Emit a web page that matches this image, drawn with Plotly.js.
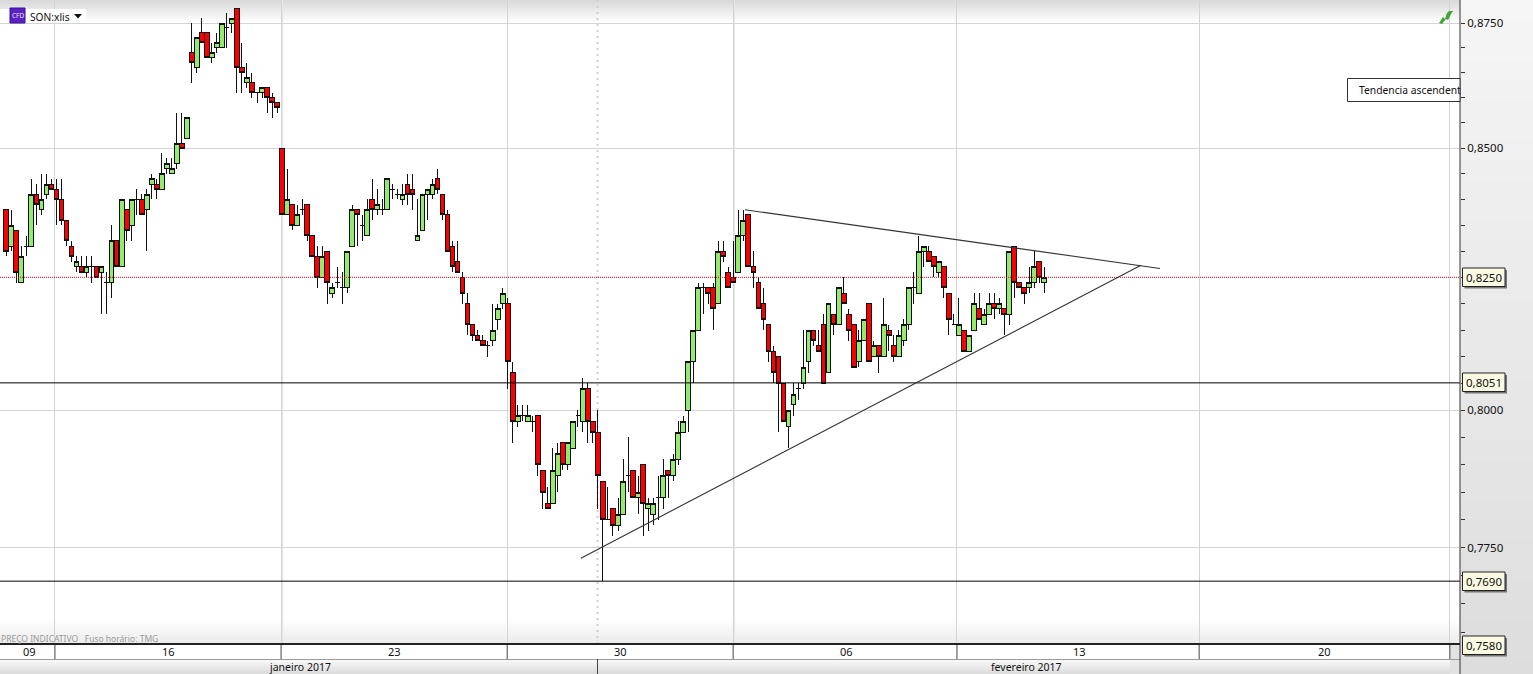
<!DOCTYPE html>
<html><head><meta charset="utf-8">
<script src="https://cdn.plot.ly/plotly-3.0.1.min.js"></script>
<style>html,body{margin:0;padding:0;background:#fff;overflow:hidden}#c{width:1533px;height:674px}
#c .boxes path{shape-rendering:crispEdges}</style>
</head><body><div id="c"></div>
<script>
// Prices in thousandths
const openK=[838,831,834,824,831,831,841,838,841,843,
842,840,836,831,827,827,826,827,827,826,
824,824,832,827,838,835,840,840,838,843,
843,842,846,845,847,851,852,869,866,873,
873,868,870,870,874,875,878,866,863,863,
861,861,862,860,859,850,837,839,835,838,
839,833,829,825,830,822,824,823,823,831,
838,835,833,840,838,838,838,842,841,840,
843,842,832,834,841,841,844,841,837,831,
828,825,820,816,814,813,812,813,817,820,
820,807,798,799,798,798,799,789,783,783,
788,794,790,793,799,798,804,798,796,787,
780,782,779,781,788,789,784,790,782,781,
784,784,789,788,791,796,800,809,815,823,
823,823,820,830,826,825,826,833,837,827,
824,820,816,811,810,805,797,801,804,805,
809,815,812,816,807,818,816,822,818,816,
809,813,820,810,812,810,815,812,810,813,
816,823,822,830,830,829,826,827,822,816,
814,815,811,815,819,816,818,820,819,819,
818,831,824,823,823,824,828,824];
const closeK=[830,835,826,829,831,841,839,840,843,842,
840,836,832,829,828,826,827,827,825,827,
824,832,827,840,834,840,840,837,841,844,
842,845,847,846,851,850,856,867,872,871,
868,869,871,875,874,876,866,865,864,861,
861,862,860,859,858,837,840,835,837,838,
833,829,825,829,824,823,824,823,830,838,
837,835,838,838,839,838,844,842,841,841,
841,841,833,841,842,843,842,837,830,827,
826,822,816,814,813,812,812,815,819,822,
809,798,799,799,799,798,790,785,782,789,
792,790,794,798,799,804,798,796,788,780,
780,779,781,787,788,784,785,783,783,783,
784,788,788,791,796,798,809,815,823,823,
822,819,830,829,823,824,833,836,827,826,
819,817,811,807,805,798,800,803,804,808,
815,813,811,805,820,816,823,820,815,808,
813,817,809,812,810,816,814,810,814,816,
823,823,830,831,828,827,828,823,817,816,
816,811,814,820,817,818,820,819,820,818,
830,824,823,822,824,827,825,825];
const highK=[838,838,834,831,833,844,843,845,845,844,
844,844,836,832,829,829,829,829,827,827,
826,835,832,840,838,840,842,841,842,845,
844,849,848,848,857,857,856,875,872,876,
873,871,873,875,877,876,878,871,867,865,
861,862,862,861,859,850,846,839,839,840,
839,833,831,831,830,824,827,826,830,839,
838,837,840,844,842,840,844,843,842,843,
845,845,840,841,842,844,846,841,838,832,
832,826,822,816,815,814,813,820,820,823,
821,809,801,801,801,799,799,789,786,793,
794,794,794,798,800,806,805,798,800,787,
786,782,784,791,795,789,788,790,784,784,
788,791,789,792,798,799,809,815,824,824,
823,824,832,832,827,832,838,838,837,830,
825,823,816,812,810,805,800,805,805,815,
815,815,815,818,820,818,823,825,819,816,
815,817,820,813,812,821,816,814,815,817,
823,826,833,831,831,829,828,827,822,818,
821,815,814,822,822,819,822,822,821,819,
830,831,824,823,827,830,828,827];
const lowK=[829,830,824,824,829,831,835,837,840,842,
835,835,831,828,826,826,825,824,825,818,
818,821,827,827,832,832,837,837,830,840,
840,842,845,845,846,850,852,863,865,871,
868,867,869,870,870,873,861,861,862,860,
859,860,857,856,857,837,837,834,835,837,
832,829,823,825,820,821,823,820,822,831,
831,832,833,836,837,837,838,840,840,839,
839,838,832,834,836,840,841,836,830,826,
826,820,814,813,813,812,810,812,815,819,
804,794,797,798,798,796,788,782,782,783,
785,789,789,793,797,796,794,794,782,769,
780,777,778,781,785,784,781,777,778,779,
780,782,784,787,790,796,796,805,815,818,
820,815,820,828,823,824,826,832,827,823,
819,815,809,805,796,798,793,799,802,804,
807,812,811,805,807,814,816,820,813,808,
808,813,809,810,807,810,811,809,810,812,
815,820,822,827,828,825,825,821,814,816,
814,811,811,815,817,816,818,817,818,814,
816,821,823,820,822,823,824,822];

const majorTicks=[0.875,0.85,0.8,0.775];
const majorLabels=['0,8750','0,8500','0,8000','0,7750'];
const minorTicks=[0.87,0.865,0.86,0.855,0.845,0.84,0.835,0.83,0.825,0.82,0.815,0.81,0.805,0.795,0.79,0.785,0.78,0.77,0.765,0.76];
const weekBoundaries=[9.7,54.8,99.9,144.96,189.6,237.9,287.9];
const dayLabels=['09','16','23','30','06','13','20'];
const dayLabelPx=[29,168,394,620,846,1079,1324];
const monthLabels=['janeiro 2017','fevereiro 2017'];
const monthLabelPx=[300,1026];
const levelValues=[0.8051,0.769];
const lastPrice=0.825;
const boxedValues=[[277.5,'0,8250'],[382.5,'0,8051'],[581.5,'0,7690'],[645.5,'0,7580']];
const topLineX=[147.3,230.1], topLineY=[0.838,0.8267];
const bottomLineX=[114.6,226.3], bottomLineY=[0.7731,0.8273];

const W=1460,H=644;
const fx=p=>p/W, fy=p=>1-p/H;
const FONT='"Noto Sans",sans-serif';
const xs=openK.map((_,i)=>i);
const k=a=>a.map(v=>v/1000);
const xRange=[-1.256,289.93];

const shapes=[];
function rect(x0,y0,x1,y1,fill,line,layer){
  shapes.push({type:'rect',xref:'paper',yref:'paper',x0:fx(x0),x1:fx(x1),y0:fy(y0),y1:fy(y1),
    fillcolor:fill,line:line?{color:line,width:1}:{width:0},layer:layer||'below'});
}
function seg(x0,y0,x1,y1,color,width,dash,layer){
  shapes.push({type:'line',xref:'paper',yref:'paper',x0:fx(x0),x1:fx(x1),y0:fy(y0),y1:fy(y1),
    line:{color:color,width:width||1,dash:dash||'solid'},layer:layer||'above'});
}
function path(pts,fill){
  const d=pts.map((q,i)=>(i?'L':'M')+fx(q[0])+','+fy(q[1])).join(' ')+' Z';
  shapes.push({type:'path',xref:'paper',yref:'paper',path:d,fillcolor:fill,line:{width:0},layer:'above'});
}
// top and bottom fades of the plot area
for(let i=0;i<22;i++){const a=0.15*(1-i/22);rect(0,i,W,i+1,'rgba(0,0,0,'+a.toFixed(3)+')');}
for(let i=0;i<26;i++){const a=0.08*(i/26);rect(0,618+i,W,619+i,'rgba(0,0,0,'+a.toFixed(3)+')');}
// right panel
for(let i=0;i<34;i++){const c=Math.round(245-(i/33)*24);rect(W,i*20,1533,(i+1)*20,'rgb('+c+','+c+','+c+')');}
// bottom strips
rect(0,644,W,659,'#ffffff');
for(let i=0;i<15;i++){const c=Math.round(250-(i/14)*30);rect(0,659+i,W,660+i,'rgb('+c+','+c+','+c+')');}
rect(1450,644,W,674,'#e2e2e2');
// wider soft grid bands
seg(282.2,0,282.2,H,'#e6e6e6',2,'solid','below');
seg(734,0,734,H,'#e6e6e6',2,'solid','below');
// crosshair
seg(597.5,0,597.5,H,'#cfcfcf',2,'2px,4px','below');
// strips
seg(0,659.5,W,659.5,'#9a9a9a',1);
weekBoundaries.forEach(b=>{const p=6.3+5.014*b;seg(p,644,p,659,'#444',1);});
seg(597.5,659,597.5,674,'#444',1);
seg(W,0,W,674,'#333',1);
seg(0,644,W,644,'#222',2);
// header chip
rect(0,9,86,23,'#ffffff',null,'above');
rect(10,8,25,23,'#5a21c4','#3a1090','above');
path([[74,14],[82,14],[78,18.5]],'#111');
// arrow icon
path([[1439,23],[1443,17],[1445,19],[1447,13],[1449,11],[1453,11],[1451,14],[1448,20],[1446,19],[1442,24]],'#3fa535');
// note box
rect(1347.5,78.5,W,101.5,'#ffffff','#333','above');
// value boxes with their shadows
boxedValues.forEach(b=>{
  rect(1464.5,b[0]-7.5,1507,b[0]+11,'rgba(70,70,70,.7)',null,'above');
  rect(1462.5,b[0]-9.5,1505,b[0]+9,'#fbfbe3','#222','above');
});

const ann=[];
function label(x,y,text,size,color,anchor,family){
  ann.push({xref:'paper',yref:'paper',x:fx(x),y:fy(y),text:text,showarrow:false,xanchor:anchor||'center',yanchor:'middle',
    font:{family:family||FONT,size:size||11,color:color||'#111'},borderpad:0,bgcolor:'rgba(0,0,0,0)'});
}
dayLabels.forEach((t,i)=>label(dayLabelPx[i],651.5,t,11));
monthLabels.forEach((t,i)=>label(monthLabelPx[i],666.5,t,10.5));
boxedValues.forEach(b=>label(1484,b[0]-0.3,b[1],11.5));
label(29,17,'SON:xlis',10.2,'#111','left');
label(17.5,15.5,'CFD',6.5,'#e8e0ff');
label(1358,90,'Tendencia ascendent',10.3,'#111','left');
label(0,638.5,'PREÇO INDICATIVO   Fuso horário: TMG',8.5,'#9a9a9a','left');

const traces=[
 {type:'scatter',mode:'lines',x:xRange,y:[lastPrice,lastPrice],line:{color:'#d81010',width:1,dash:'1px,1px'},hoverinfo:'skip'},
 {type:'candlestick',x:xs,open:k(openK),high:k(highK),low:k(lowK),close:k(closeK),whiskerwidth:0,
  increasing:{line:{color:'#111111',width:1},fillcolor:'#94ea6c'},
  decreasing:{line:{color:'#111111',width:1},fillcolor:'#fa0000'},hoverinfo:'skip'},
 {type:'scatter',mode:'lines',x:xRange,y:[levelValues[0],levelValues[0]],line:{color:'#000',width:1},hoverinfo:'skip'},
 {type:'scatter',mode:'lines',x:xRange,y:[levelValues[1],levelValues[1]],line:{color:'#000',width:1},hoverinfo:'skip'},
 {type:'scatter',mode:'lines',x:topLineX,y:topLineY,line:{color:'#333',width:1.1},hoverinfo:'skip'},
 {type:'scatter',mode:'lines',x:bottomLineX,y:bottomLineY,line:{color:'#333',width:1.1},hoverinfo:'skip'}
];
const layout={
  width:1533,height:674,margin:{l:0,r:73,t:0,b:30,pad:0},
  paper_bgcolor:'#ffffff',plot_bgcolor:'rgba(0,0,0,0)',showlegend:false,boxgap:0.05,boxgroupgap:0,
  xaxis:{type:'linear',range:xRange,tickmode:'array',tickvals:weekBoundaries,showticklabels:false,ticks:'',
    showgrid:true,gridcolor:'#d4d4d4',gridwidth:1,zeroline:false,showline:false,rangeslider:{visible:false},fixedrange:true},
  yaxis:{type:'log',side:'right',range:[Math.log10(0.7579),Math.log10(0.87967)],tickmode:'array',tickvals:majorTicks,ticktext:majorLabels,
    ticks:'outside',ticklen:4,tickcolor:'#333',tickfont:{family:FONT,size:11.5,color:'#111'},
    minor:{tickmode:'array',tickvals:minorTicks,ticks:'outside',ticklen:4,tickcolor:'#333',showgrid:false},
    showgrid:true,gridcolor:'#d4d4d4',gridwidth:1,zeroline:false,showline:false,fixedrange:true},
  shapes:shapes,annotations:ann
};
Plotly.newPlot('c',traces,layout,{displayModeBar:false,staticPlot:true});
</script></body></html>
